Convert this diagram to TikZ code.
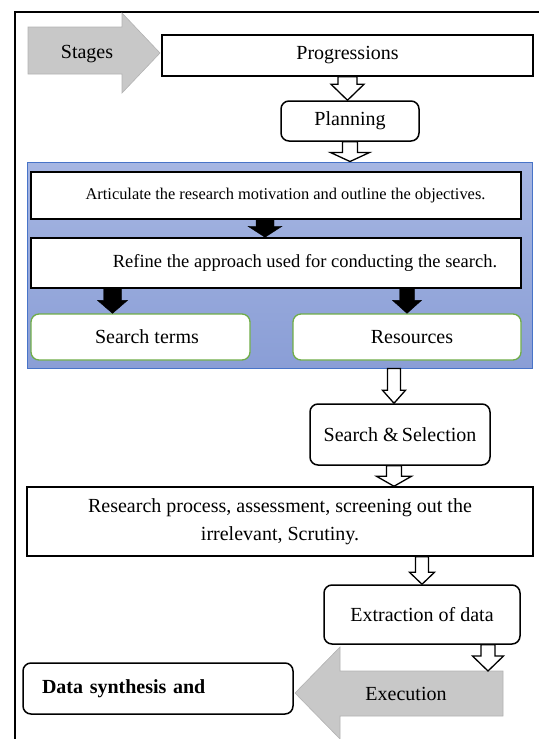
\documentclass[tikz,border=0pt]{standalone}
\usepackage{fontspec}
\setmainfont{Liberation Serif}
\usetikzlibrary{positioning,calc}
\definecolor{paneltop}{RGB}{166,182,226}
\definecolor{panelbot}{RGB}{138,158,214}
\definecolor{panelrim}{RGB}{72,116,200}
\definecolor{greenrim}{RGB}{112,173,71}
\definecolor{grayarrow}{RGB}{200,200,200}
\definecolor{grayrim}{RGB}{178,178,178}

% block arrow: style, from, to, shaft half width, head half width, head length
\newcommand{\blkarrow}[6]{%
  \draw[#1] let \p1=#2, \p2=#3 in
    (\x1-#4,\y1) -- (\x1+#4,\y1) -- (\x1+#4,\y2+#6) -- (\x1+#5,\y2+#6)
    -- (\x1,\y2) -- (\x1-#5,\y2+#6) -- (\x1-#4,\y2+#6) -- cycle;}

\begin{document}
\begin{tikzpicture}[x=1pt,y=-1pt,
    plainbox/.style={draw,line width=1.5pt,fill=white,inner sep=0pt,font=\fontsize{20}{28}\selectfont},
    roundbox/.style={plainbox,rounded corners=8pt},
    greenbox/.style={roundbox,draw=greenrim,line width=1.3pt},
    hollow/.style={draw,fill=white,line width=1.3pt},
    solid/.style={fill=black},
    bigarrow/.style={fill=grayarrow,draw=grayrim,line width=0.6pt}]

    \useasboundingbox (0,0) rectangle (539,739);
    \draw[line width=1.5pt] (15,739) -- (15,12) -- (539,12);

    % stages and progressions
    \draw[bigarrow] (28,27) -- (122,27) -- (122,13) -- (160,53) -- (122,93) -- (122,74) -- (28,74) -- cycle;
    \node[font=\fontsize{20}{24}\selectfont] (stg) at(87,54) {Stages};
    \node[plainbox,minimum width=371pt,minimum height=41pt] (prog) at(347.5,55.5) {Progressions};
    \node[roundbox,minimum width=138pt,minimum height=40pt] (plan) at(350,121) {Planning};
    \blkarrow{hollow}{(prog.south)}{(plan.north)}{9.5pt}{16.5pt}{16pt}

    % planning panel
    \node[draw=panelrim,line width=1pt,top color=paneltop,bottom color=panelbot,
          minimum width=505pt,minimum height=206pt] (panel) at(279.5,265) {};
    \blkarrow{hollow}{(plan.south)}{(panel.north)}{7.5pt}{19.5pt}{9pt}

    \node[plainbox,minimum width=490pt,minimum height=47pt,font=\fontsize{16.4}{20}\selectfont] (art) at(276,195.5)
        {\hspace*{19pt}Articulate the research motivation and outline the objectives.};
    \node[plainbox,minimum width=490pt,minimum height=50pt,font=\fontsize{18.5}{22}\selectfont] (ref) at(276,263)
        {\hspace*{58pt}Refine the approach used for conducting the search.};
    \node[greenbox,minimum width=219pt,minimum height=46pt] (st) at(140.5,337) {\hspace*{13pt}Search terms};
    \node[greenbox,minimum width=228pt,minimum height=46pt] (res) at(407,337) {\hspace*{10pt}Resources};

    \blkarrow{solid}{($(art.south)+(-11,0)$)}{(ref.north)}{9pt}{17pt}{11pt}
    \blkarrow{solid}{($(st.north |- ref.south)+(-28,0)$)}{(st.north)}{9pt}{15pt}{13pt}
    \blkarrow{solid}{(res.north |- ref.south)}{(res.north)}{7.5pt}{14.5pt}{13pt}

    % search and execution
    \node[roundbox,minimum width=180pt,minimum height=61pt] (ss) at(400,434.5) {Search \&\,Selection};
    \node[plainbox,minimum width=506pt,minimum height=69pt,align=center] (rp) at(280,521.5)
        {Research process, assessment, screening out the\\irrelevant, Scrutiny.};
    \node[roundbox,minimum width=196pt,minimum height=59pt] (ext) at(422,614.5) {Extraction of data};

    \blkarrow{hollow}{($(res.south |- panel.south)+(-13,0)$)}{(ss.north)}{6.5pt}{11.5pt}{13pt}
    \blkarrow{hollow}{($(ss.south)+(-6,0)$)}{(rp.north)}{7.5pt}{17.5pt}{10pt}
    \blkarrow{hollow}{(rp.south -| ext.north)}{(ext.north)}{6.5pt}{12.5pt}{12pt}

    \draw[bigarrow] (503,671) -- (340,671) -- (340,647) -- (295,693) -- (340,739) -- (340,716) -- (503,716) -- cycle;
    \coordinate (execbody) at(488,671);
    \node[font=\fontsize{20}{24}\selectfont] (exec) at(406,694) {Execution};
    \blkarrow{hollow}{($(ext.south)+(66,0)$)}{(execbody)}{7pt}{15.5pt}{15pt}

    \node[roundbox,minimum width=270pt,minimum height=51pt,text width=232pt,inner xsep=19pt,align=left,
          font=\fontsize{20}{24}\bfseries] (syn) at(158,688.5) {Data synthesis and};

\end{tikzpicture}
\end{document}
